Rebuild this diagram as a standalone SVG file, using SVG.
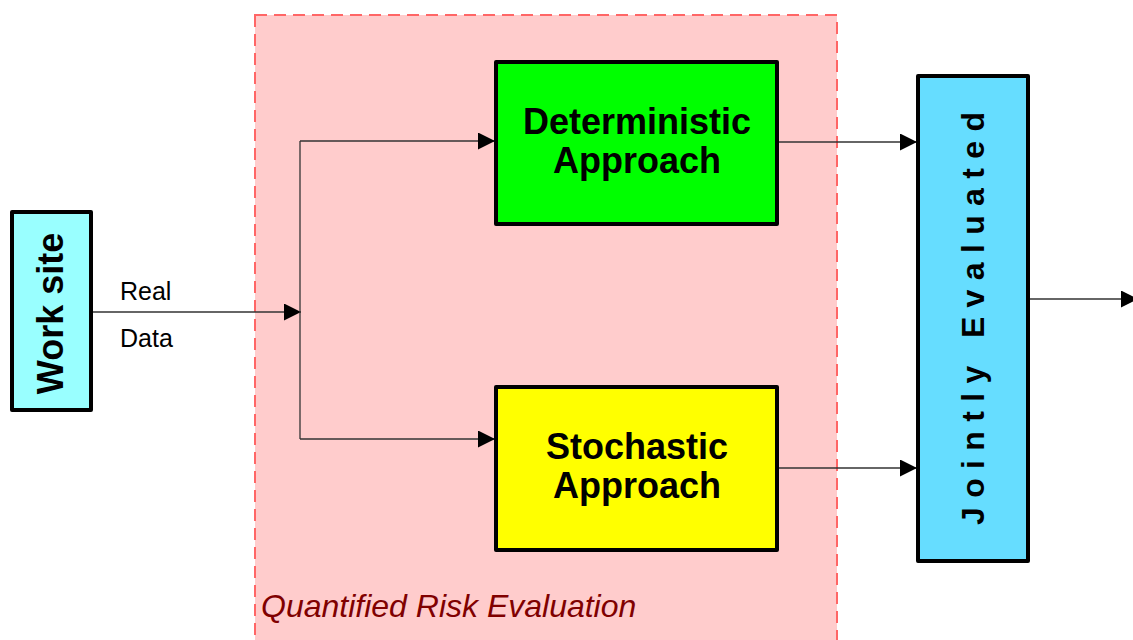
<svg xmlns="http://www.w3.org/2000/svg" width="1133" height="640" viewBox="0 0 1133 640">
<style>
.box{stroke:#000;stroke-width:4;stroke-linejoin:round}
.lbl{font-family:"Liberation Sans",Arial,sans-serif;font-weight:bold;fill:#000}
.conn{stroke:#333;stroke-width:1.3;fill:none}
</style>
<defs>
<marker id="arr" markerUnits="userSpaceOnUse" markerWidth="17" markerHeight="17" refX="17" refY="8.5" orient="auto">
<path d="M0,0 L17,8.5 L0,17 Z" fill="#000"/>
</marker>
</defs>
<rect width="1133" height="640" fill="#fff"/>
<g id="quantified-risk-evaluation">
<rect x="255" y="15" width="582" height="640" fill="#FFCCCC" stroke="#FF6666" stroke-width="2" stroke-dasharray="12 7"/>
<text x="261" y="617" font-family="Liberation Sans,Arial,sans-serif" font-style="italic" font-size="32" fill="#800000">Quantified Risk Evaluation</text>
</g>
<g id="connectors">
<path class="conn" d="M93,312 H301" marker-end="url(#arr)"/>
<path class="conn" d="M300,141 V439"/>
<path class="conn" d="M300,141 H495" marker-end="url(#arr)"/>
<path class="conn" d="M300,439 H495" marker-end="url(#arr)"/>
<path class="conn" d="M779,142 H917" marker-end="url(#arr)"/>
<path class="conn" d="M779,468 H917" marker-end="url(#arr)"/>
<path class="conn" d="M1030,299 H1138" marker-end="url(#arr)"/>
<text x="120" y="300" font-family="Liberation Sans,Arial,sans-serif" font-size="25" fill="#000">Real</text>
<text x="120" y="347" font-family="Liberation Sans,Arial,sans-serif" font-size="25" fill="#000">Data</text>
</g>
<g id="work-site">
<rect class="box" x="12" y="212" width="79" height="198" fill="#99FFFF"/>
<text class="lbl" font-size="36" text-anchor="middle" transform="translate(63,313.5) rotate(-90)">Work site</text>
</g>
<g id="deterministic">
<rect class="box" x="496" y="62" width="281" height="162" fill="#00FF00"/>
<text class="lbl" font-size="36" text-anchor="middle" x="637" y="134">Deterministic</text>
<text class="lbl" font-size="36" text-anchor="middle" x="637" y="173">Approach</text>
</g>
<g id="stochastic">
<rect class="box" x="496" y="387" width="281" height="163" fill="#FFFF00"/>
<text class="lbl" font-size="36" text-anchor="middle" x="637" y="459">Stochastic</text>
<text class="lbl" font-size="36" text-anchor="middle" x="637" y="498">Approach</text>
</g>
<g id="jointly-evaluated">
<rect class="box" x="918" y="76" width="110" height="485" fill="#66DDFF"/>
<text class="lbl" font-size="32" x="0" y="0" textLength="413" lengthAdjust="spacing" transform="translate(984,525) rotate(-90)">Jointly Evaluated</text>
</g>
</svg>
